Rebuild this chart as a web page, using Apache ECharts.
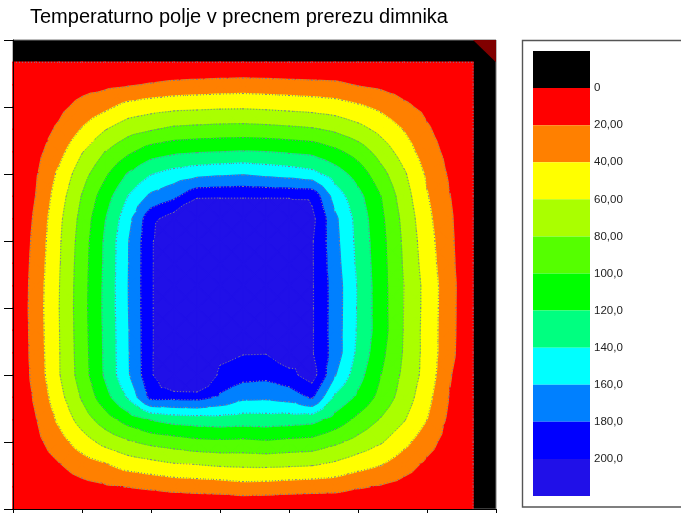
<!DOCTYPE html>
<html>
<head>
<meta charset="utf-8">
<script src="https://cdn.jsdelivr.net/npm/echarts@6/dist/echarts.min.js"></script>
<style>
  html, body { margin: 0; padding: 0; background: #fff; }
  #chart { width: 681px; height: 513px; }
</style>
</head>
<body>
<div id="chart"></div>
<script>
// mesh node positions (m), x left->right, y top->bottom rows
var nodeX = [0, 0.333, 0.667, 1, 1.333, 1.667, 2, 2.333, 2.667, 3, 3.333, 3.667, 4, 4.333, 4.667, 5, 5.333, 5.667, 6, 6.333, 6.667];
var nodeY = [6.667, 6.333, 6, 5.667, 5.333, 5, 4.667, 4.333, 4, 3.667, 3.333, 3, 2.667, 2.333, 2, 1.667, 1.333, 1, 0.667, 0.333, 0];

// temperature at nodes (°C), one row per nodeY
var temperature = [
  [0, 0, 0, 0, 0, 0, 0, 0, 0, 0, 0, 0, 0, 0, 0, 0, 0, 0, 0, 0, 0],
  [0, 3.4, 7.5, 12.7, 15.1, 17.9, 21.5, 24.7, 26.3, 27.7, 28.5, 27.6, 26.3, 25.1, 23.9, 18.6, 15.2, 11.3, 7.6, 3.4, 0],
  [0, 6.8, 14.9, 26.2, 35.0, 47.2, 51.9, 54.9, 55.9, 57.1, 57.5, 56.2, 54.5, 52.6, 49.6, 43.4, 35.3, 23.6, 15.1, 6.8, 0],
  [0, 10.3, 23.1, 41.4, 58.9, 72.0, 78.2, 84.0, 85.7, 87.0, 87.5, 86.3, 84.3, 82.0, 76.2, 66.7, 53.9, 38.9, 22.3, 10.2, 0],
  [0, 13.7, 32.8, 58.7, 80.0, 95.6, 110.0, 115.8, 118.4, 119.7, 121.0, 120.0, 117.4, 114.8, 104.6, 91.0, 71.3, 50.6, 28.9, 13.6, 0],
  [0, 18.0, 43.9, 71.8, 96.0, 121.7, 139.0, 147.9, 153.5, 156.5, 158.5, 154.7, 151.5, 146.4, 130.3, 111.3, 86.8, 62.8, 36.9, 17.0, 0],
  [0, 20.4, 50.4, 81.0, 110.0, 140.4, 164.0, 175.0, 195.8, 196.5, 196.8, 196.4, 196.0, 195.5, 151.0, 126.4, 100.0, 69.1, 41.4, 20.4, 0],
  [0, 23.6, 55.3, 86.3, 118.8, 152.5, 194.1, 210, 245, 238, 235, 239, 243, 206, 164.0, 132.5, 104.2, 74.1, 45.1, 23.0, 0],
  [0, 26.0, 57.2, 89.1, 122.6, 158.6, 196.1, 234, 230, 230, 230, 230, 230, 202, 166.0, 134.1, 106.6, 76.3, 48.2, 24.2, 0],
  [0, 27.8, 58.1, 90.6, 123.2, 159.0, 196.2, 234, 230, 230, 230, 230, 230, 202, 168.0, 135.5, 107.6, 77.6, 50.2, 25.4, 0],
  [0, 29.4, 59.2, 91.4, 124.0, 159.4, 196.3, 234, 230, 230, 230, 230, 230, 202, 170.4, 138.3, 108.0, 80.0, 52.6, 27.3, 0],
  [0, 30.0, 59.6, 91.9, 124.2, 159.2, 196.3, 234, 230, 230, 230, 230, 230, 202, 170.4, 138.0, 108.3, 79.5, 52.6, 27.0, 0],
  [0, 29.3, 59.2, 91.2, 123.6, 158.2, 196.2, 234, 230, 230, 230, 230, 230, 202, 170.0, 137.4, 108.9, 79.0, 52.1, 26.7, 0],
  [0, 28.6, 58.8, 90.5, 123.1, 157.8, 196.2, 234, 235, 208, 201.4, 201, 214.4, 202, 170.8, 135.2, 105.1, 78.0, 52.5, 26.0, 0],
  [0, 27.3, 58.6, 89.3, 122.6, 157.3, 196.0, 240, 243, 193.7, 187.5, 185.5, 193.5, 210, 161.2, 127.6, 100.0, 75.3, 52.1, 21.5, 0],
  [0, 23.5, 52.7, 82.2, 111.7, 142.3, 186.0, 185.5, 186.6, 176.7, 164.1, 163.4, 167.7, 182.6, 135.9, 116.0, 92.9, 70.9, 46.4, 18.6, 0],
  [0, 19.0, 43.9, 68.8, 89.9, 107.9, 120.9, 127.7, 130.0, 131.5, 130.0, 130.6, 128.9, 126.4, 112.0, 94.2, 78.2, 61.4, 40.1, 14.9, 0],
  [0, 14.3, 31.3, 50.2, 66.3, 77.4, 85.1, 89.5, 94.4, 95.8, 94.7, 97.1, 94.3, 92.6, 83.8, 73.0, 61.8, 45.7, 27.4, 11.2, 0],
  [0, 9.5, 18.9, 30.1, 38.4, 48.4, 53.4, 58.5, 60.3, 63.0, 64.0, 64.5, 63.5, 62.0, 56.4, 48.2, 41.2, 28.3, 16.0, 7.4, 0],
  [0, 4.8, 9.4, 13.7, 17.6, 20.5, 23.3, 26.6, 28.4, 29.7, 33.0, 32.0, 29.9, 28.6, 27.4, 21.9, 18.2, 12.9, 8.0, 3.7, 0],
  [0, 0, 0, 0, 0, 0, 0, 0, 0, 0, 0, 0, 0, 0, 0, 0, 0, 0, 0, 0, 0]
];

var levels = [0, 20, 40, 60, 80, 100, 120, 140, 160, 180, 200];
var bandColors = ["#ff0000", "#ff8000", "#ffff00", "#aaff00", "#55ff00", "#00ff00", "#00ff80", "#00ffff", "#0080ff", "#0000ff", "#2010e8"];
var legendColors = ["#000000"].concat(bandColors);
var legendLabels = ["0", "20,00", "40,00", "60,00", "80,00", "100,0", "120,0", "140,0", "160,0", "180,0", "200,0"];
var cornerCell = [[6.667, 7], [7, 7], [7, 6.667]];

var FONT = "Liberation Sans, Arial, sans-serif";

var cells = [];
for (var j = 0; j < nodeY.length - 1; j++) {
  for (var i = 0; i < nodeX.length - 1; i++) {
    cells.push([(nodeX[i] + nodeX[i + 1]) / 2, (nodeY[j] + nodeY[j + 1]) / 2, i, j]);
  }
}

function cellTriangles(api) {
  var i = api.value(2), j = api.value(3);
  var c = [[i, j], [i + 1, j], [i + 1, j + 1], [i, j + 1]].map(function (n) {
    var p = api.coord([nodeX[n[0]], nodeY[n[1]]]);
    return { x: p[0], y: p[1], v: temperature[n[1]][n[0]] };
  });
  var mid = {
    x: (c[0].x + c[2].x) / 2,
    y: (c[0].y + c[2].y) / 2,
    v: (c[0].v + c[1].v + c[2].v + c[3].v) / 4
  };
  return [[c[0], c[1], mid], [c[1], c[2], mid], [c[2], c[3], mid], [c[3], c[0], mid]];
}

function clip(pts, level, above) {
  var out = [];
  for (var k = 0; k < pts.length; k++) {
    var a = pts[k], b = pts[(k + 1) % pts.length];
    var ina = above ? a.v >= level : a.v < level;
    var inb = above ? b.v >= level : b.v < level;
    if (ina) out.push(a);
    if (ina !== inb) {
      var t = (level - a.v) / (b.v - a.v);
      out.push({ x: a.x + t * (b.x - a.x), y: a.y + t * (b.y - a.y), v: level });
    }
  }
  return out;
}

function renderBands(params, api) {
  var children = [];
  cellTriangles(api).forEach(function (tri) {
    for (var b = 0; b < bandColors.length; b++) {
      var poly = clip(tri, levels[b], true);
      if (b + 1 < levels.length) poly = clip(poly, levels[b + 1], false);
      if (poly.length < 3) continue;
      children.push({
        type: "polygon",
        shape: { points: poly.map(function (p) { return [p.x, p.y]; }) },
        style: { fill: bandColors[b], stroke: bandColors[b], lineWidth: 1.4, lineJoin: "round" }
      });
    }
  });
  return { type: "group", children: children };
}

var isoStyle = { stroke: "#7c7c94", lineWidth: 1, lineDash: [1, 2] };

function renderLines(params, api) {
  var children = [];
  cellTriangles(api).forEach(function (tri) {
    levels.slice(1).forEach(function (L) {
      var pts = [];
      for (var k = 0; k < 3; k++) {
        var a = tri[k], b = tri[(k + 1) % 3];
        if ((a.v >= L) !== (b.v >= L)) {
          var t = (L - a.v) / (b.v - a.v);
          pts.push([a.x + t * (b.x - a.x), a.y + t * (b.y - a.y)]);
        }
      }
      if (pts.length === 2) {
        children.push({
          type: "line",
          shape: { x1: pts[0][0], y1: pts[0][1], x2: pts[1][0], y2: pts[1][1] },
          style: isoStyle
        });
      }
    });
  });
  // zero isotherm along the field border (top and right)
  var i = api.value(2), j = api.value(3);
  if (j === 0) {
    var p1 = api.coord([nodeX[i], nodeY[0]]), p2 = api.coord([nodeX[i + 1], nodeY[0]]);
    children.push({ type: "line", shape: { x1: p1[0], y1: p1[1], x2: p2[0], y2: p2[1] }, style: isoStyle });
  }
  if (i === nodeX.length - 2) {
    var q1 = api.coord([nodeX[i + 1], nodeY[j]]), q2 = api.coord([nodeX[i + 1], nodeY[j + 1]]);
    children.push({ type: "line", shape: { x1: q1[0], y1: q1[1], x2: q2[0], y2: q2[1] }, style: isoStyle });
  }
  return { type: "group", children: children };
}

var legendSeries = legendColors.map(function (col) {
  return {
    type: "bar",
    xAxisIndex: 1,
    yAxisIndex: 1,
    stack: "key",
    barWidth: "100%",
    data: [1],
    itemStyle: { color: col },
    silent: true
  };
});

var chart = echarts.init(document.getElementById("chart"), null, { renderer: "canvas" });
var option = {
  animation: false,
  title: {
    text: "Temperaturno polje v precnem prerezu dimnika",
    left: 25,
    top: 2,
    textStyle: { fontSize: 20, fontWeight: "normal", color: "#000", fontFamily: FONT }
  },
  grid: [
    { left: 13, right: 185, top: 40, bottom: 4, show: true, backgroundColor: "#000", borderColor: "#777", borderWidth: 1 },
    { left: 533, top: 51, width: 57, height: 445 }
  ],
  graphic: [
    {
      type: "rect",
      shape: { x: 522.5, y: 40.5, width: 175, height: 466.5 },
      style: { fill: "none", stroke: "#555", lineWidth: 1.4 },
      z: 1
    }
  ],
  xAxis: [
    {
      type: "value", min: 0, max: 7, interval: 1, z: 10,
      axisLine: { lineStyle: { color: "#000", width: 1 } },
      axisTick: { length: 9, lineStyle: { color: "#000" } },
      axisLabel: { show: false },
      splitLine: { show: false }
    },
    { type: "category", gridIndex: 1, data: ["k"], show: false }
  ],
  yAxis: [
    {
      type: "value", min: 0, max: 7, interval: 1, z: 10,
      axisLine: { lineStyle: { color: "#000", width: 1 } },
      axisTick: { length: 9, lineStyle: { color: "#000" } },
      axisLabel: { show: false },
      splitLine: { show: false }
    },
    {
      type: "value", gridIndex: 1, min: 0, max: legendColors.length, interval: 1,
      inverse: true, position: "right",
      axisLine: { show: false },
      axisTick: { show: false },
      splitLine: { show: false },
      axisLabel: {
        margin: 4, fontSize: 11.5, color: "#222", fontFamily: FONT,
        formatter: function (v) { return legendLabels[v - 1] || ""; }
      }
    }
  ],
  series: [
    {
      type: "custom",
      name: "polje",
      renderItem: renderBands,
      data: cells,
      silent: true,
      z: 2
    },
    {
      type: "custom",
      name: "izoterme",
      renderItem: renderLines,
      data: cells,
      silent: true,
      z: 3
    },
    {
      type: "custom",
      name: "kot",
      data: [[7, 7]],
      silent: true,
      z: 3,
      renderItem: function (params, api) {
        return {
          type: "polygon",
          shape: { points: cornerCell.map(function (p) { return api.coord(p); }) },
          style: { fill: "#800000" }
        };
      }
    }
  ].concat(legendSeries)
};
chart.setOption(option);
</script>
</body>
</html>
